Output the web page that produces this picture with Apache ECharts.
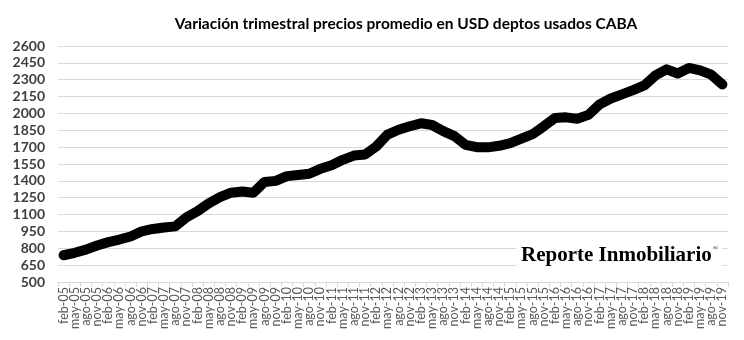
<!DOCTYPE html>
<html><head><meta charset="utf-8">
<script src="https://cdn.jsdelivr.net/npm/echarts@6/dist/echarts.min.js"></script>
<style>html,body{margin:0;padding:0;background:#fff}#c{width:744px;height:340px}</style>
</head><body><div id="c"></div>
<script>
const title = 'Variación trimestral precios promedio en USD deptos usados CABA';
const categories = [
 'feb-05','may-05','ago-05','nov-05','feb-06','may-06','ago-06','nov-06',
 'feb-07','may-07','ago-07','nov-07','feb-08','may-08','ago-08','nov-08',
 'feb-09','may-09','ago-09','nov-09','feb-10','may-10','ago-10','nov-10',
 'feb-11','may-11','ago-11','nov-11','feb-12','may-12','ago-12','nov-12',
 'feb-13','may-13','ago-13','nov-13','feb-14','may-14','ago-14','nov-14',
 'feb-15','may-15','ago-15','nov-15','feb-16','may-16','ago-16','nov-16',
 'feb-17','may-17','ago-17','nov-17','feb-18','may-18','ago-18','nov-18',
 'feb-19','may-19','ago-19','nov-19'];
const prices = [
 738,760,788,825,855,878,905,950,
 972,985,995,1075,1130,1200,1255,1295,
 1305,1295,1390,1400,1442,1452,1463,1507,
 1538,1587,1625,1635,1706,1812,1855,1886,
 1912,1897,1843,1798,1720,1700,1698,1712,
 1735,1775,1815,1885,1960,1965,1953,1987,
 2080,2133,2170,2207,2249,2338,2392,2355,
 2405,2383,2345,2258];
const yMin = 500, yMax = 2600, yStep = 150;
const watermark = 'Reporte Inmobiliario';

const chart = echarts.init(document.getElementById('c'), null, {renderer:'canvas'});
chart.setOption({
  animation:false,
  backgroundColor:'#fff',
  title:{text:title,left:401,textAlign:'center',top:11,
    textStyle:{fontFamily:'Lato',fontSize:15.5,fontWeight:'bold',color:'#000'}},
  grid:{left:58,right:16,top:46,bottom:58},
  xAxis:{type:'category',data:categories,boundaryGap:true,
    axisLine:{lineStyle:{color:'#d9d9d9',width:1}},
    axisTick:{show:true,length:5,lineStyle:{color:'#d9d9d9'}},
    axisLabel:{interval:0,rotate:90,fontFamily:'Lato',fontSize:12.5,color:'#595959',margin:5}},
  yAxis:{type:'value',min:yMin,max:yMax,interval:yStep,
    axisLine:{show:false},axisTick:{show:false},
    splitLine:{lineStyle:{color:'#d9d9d9',width:1}},
    axisLabel:{fontFamily:'Lato',fontSize:14,fontWeight:'bold',color:'#404040',margin:13,
      formatter:v=>String(v)}},
  series:[{type:'line',data:prices,showSymbol:false,symbol:'none',
    lineStyle:{color:'#000',width:10,cap:'round',join:'round'},z:3}],
  graphic:[
    {type:'rect',left:516,top:243,z:10,shape:{width:206,height:28},style:{fill:'#fff'}},
    {type:'text',left:521,top:245,z:11,style:{
      text:'{a|'+watermark+'}{b|®}',
      rich:{a:{fontFamily:'Liberation Serif',fontSize:21,fontWeight:'bold',color:'#111'},
            b:{fontFamily:'Liberation Serif',fontSize:7,color:'#111',verticalAlign:'top',padding:[0,0,12,1]}}}}
  ]
});
</script></body></html>
